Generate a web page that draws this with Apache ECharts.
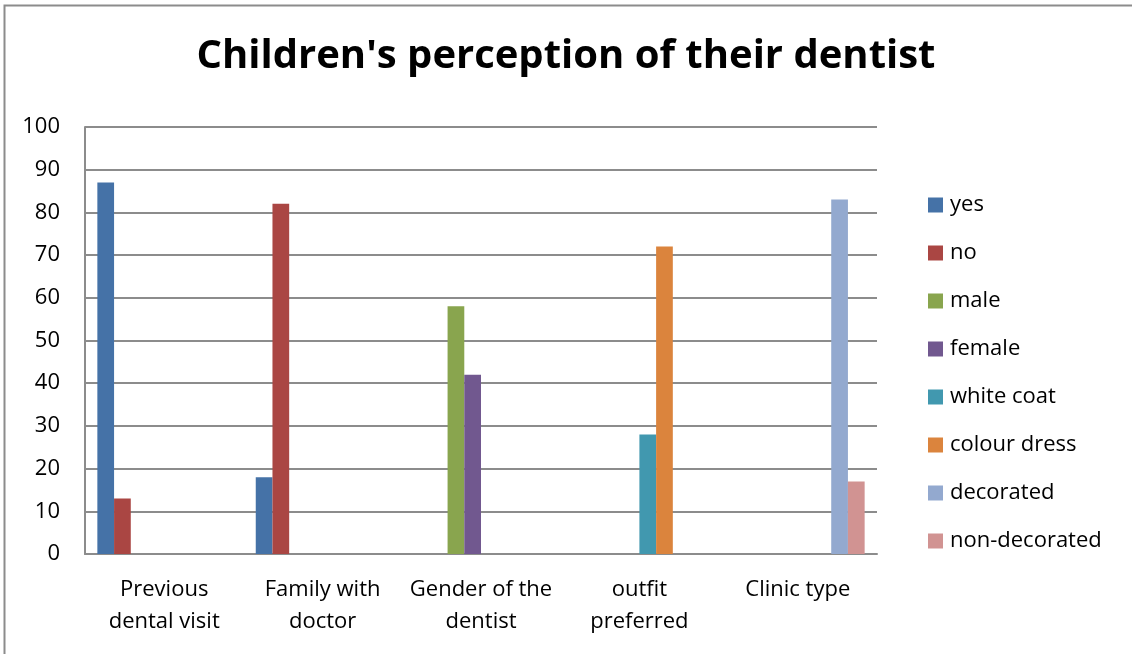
<!DOCTYPE html>
<html>
<head>
<meta charset="utf-8">
<script src="https://cdn.jsdelivr.net/npm/echarts@6/dist/echarts.min.js"></script>
<style>
html,body{margin:0;padding:0;background:#fff;}
#chart{width:1132px;height:654px;}
</style>
</head>
<body>
<div id="chart"></div>
<script>
const titleText = "Children's perception of their dentist";
const categories = ['Previous\ndental visit', 'Family with\ndoctor', 'Gender of the\ndentist', 'outfit\npreferred', 'Clinic type'];
const seriesNames = ['yes', 'no', 'male', 'female', 'white coat', 'colour dress', 'decorated', 'non-decorated'];
const yesValues = [87, 18, 0, 0, 0];
const noValues = [13, 82, 0, 0, 0];
const maleValues = [0, 0, 58, 0, 0];
const femaleValues = [0, 0, 42, 0, 0];
const whiteCoatValues = [0, 0, 0, 28, 0];
const colourDressValues = [0, 0, 0, 72, 0];
const decoratedValues = [0, 0, 0, 0, 83];
const nonDecoratedValues = [0, 0, 0, 0, 17];
const yTicks = [0, 10, 20, 30, 40, 50, 60, 70, 80, 90, 100];

const allValues = [yesValues, noValues, maleValues, femaleValues, whiteCoatValues, colourDressValues, decoratedValues, nonDecoratedValues];
const colors = ['#4572A7', '#AA4643', '#89A54E', '#71588F', '#4198AF', '#DB843D', '#93A9CF', '#D19392'];
const FONT = 'Open Sans';

const chart = echarts.init(document.getElementById('chart'), null, {renderer: 'canvas'});
chart.setOption({
  animation: false,
  color: colors,
  textStyle: {fontFamily: FONT},
  title: {
    text: titleText,
    left: 'center',
    top: 32,
    textStyle: {fontFamily: FONT, fontSize: 40, fontWeight: 'bold', color: '#000'}
  },
  graphic: [{
    type: 'rect',
    shape: {x: 4.5, y: 5.5, width: 1200, height: 700},
    style: {fill: null, stroke: '#8c8c8c', lineWidth: 2},
    silent: true
  }],
  legend: {
    orient: 'vertical',
    left: 923,
    top: 189,
    icon: 'rect',
    itemWidth: 15,
    itemHeight: 15,
    itemGap: 26,
    textStyle: {fontFamily: FONT, fontSize: 22, color: '#000', lineHeight: 22, padding: [0, 0, 0, 2]},
    data: seriesNames
  },
  grid: {left: 85, right: 255, top: 127, bottom: 100, containLabel: false},
  xAxis: {
    type: 'category',
    data: categories,
    axisLine: {lineStyle: {color: '#8c8c8c', width: 2}},
    axisTick: {show: false},
    axisLabel: {fontFamily: FONT, fontSize: 22, color: '#000', lineHeight: 32, margin: 20, interval: 0}
  },
  yAxis: {
    type: 'value',
    min: 0,
    max: 100,
    interval: 10,
    axisLine: {show: true, lineStyle: {color: '#8c8c8c', width: 2}},
    axisTick: {show: false},
    splitLine: {lineStyle: {color: '#8c8c8c', width: 2}},
    axisLabel: {fontFamily: FONT, fontSize: 22, color: '#000', margin: 25,
      formatter: v => yTicks.includes(v) ? String(v) : ''}
  },
  series: seriesNames.map((name, i) => ({
    name: name,
    type: 'bar',
    data: allValues[i],
    barGap: '0%',
    barCategoryGap: '15.6%',
    itemStyle: {color: colors[i]}
  }))
});
</script>
</body>
</html>
